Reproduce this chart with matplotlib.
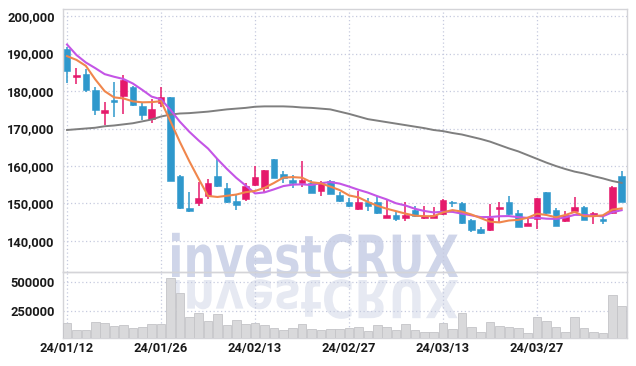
import numpy as np
import pandas as pd
import matplotlib
matplotlib.use("Agg")
import matplotlib.pyplot as plt
from matplotlib.textpath import TextPath
from matplotlib.patches import PathPatch
from matplotlib.font_manager import FontProperties
import matplotlib.transforms as mtransforms

# ---------------- data ----------------
opens = [191200, 183800, 184600, 180300, 174200, 177600, 178700, 181100, 176100, 172500,
         176900, 178300, 157300, 148900, 150200, 152100, 157300, 154100, 150700, 151200,
         154800, 154200, 161900, 157900, 156300, 155400, 155500, 153400, 156000, 152300,
         150300, 148500, 150400, 150400, 146200, 146800, 146200, 148300, 146200, 146200,
         147300, 150400, 150200, 145600, 143200, 142900, 148500, 150400, 147500, 144100,
         145900, 153000, 148300, 145200, 147900, 149100, 146600, 145900, 147400, 157300]
highs = [191800, 186200, 186000, 181100, 177100, 182300, 184400, 181400, 177100, 178000,
         181100, 178300, 157500, 153000, 155600, 156500, 161800, 155400, 152300, 155400,
         160000, 159000, 161900, 158700, 157600, 161200, 156300, 155900, 156300, 153000,
         151400, 153200, 151500, 152000, 151100, 147800, 150400, 149300, 149200, 149000,
         151100, 150600, 150400, 145800, 143700, 149800, 150400, 152000, 148300, 145900,
         151500, 153100, 148900, 148000, 151700, 149300, 147700, 147000, 154700, 158700]
lows = [182200, 182000, 179800, 173500, 170900, 173000, 173900, 176000, 172200, 171400,
        175800, 155900, 148400, 147800, 149300, 151100, 154500, 150000, 148200, 150700,
        154700, 152700, 156700, 155400, 154100, 154500, 152700, 152100, 152400, 150500,
        149000, 148300, 148100, 147200, 146100, 145300, 145300, 146400, 145800, 146000,
        147000, 149000, 144500, 142300, 141800, 142700, 145100, 147000, 143600, 143900,
        143100, 147300, 143900, 145000, 147800, 145500, 144500, 144500, 147200, 150300]
closes = [185400, 184300, 180300, 174900, 174900, 177100, 182900, 176400, 173600, 175200,
          178300, 156100, 148900, 148100, 151500, 155500, 154700, 150500, 149700, 154700,
          157100, 158900, 156900, 156900, 155400, 156300, 152900, 155400, 152600, 150700,
          149200, 150300, 149400, 147400, 146800, 145900, 147000, 146700, 146700, 146800,
          151000, 150000, 144700, 142900, 142000, 146100, 149100, 147200, 143800, 144800,
          151400, 147500, 144100, 146800, 149000, 145700, 147500, 145200, 154500, 150500]
volumes = [139000, 80000, 80000, 150000, 139000, 115000, 121000, 98000, 104000, 130000,
           130000, 535000, 403000, 192000, 227000, 157000, 218000, 121000, 165000, 130000,
           139000, 121000, 95000, 77000, 95000, 130000, 86000, 77000, 86000, 86000,
           95000, 104000, 71000, 121000, 104000, 77000, 130000, 77000, 68000, 68000,
           139000, 86000, 227000, 104000, 68000, 148000, 112000, 104000, 95000, 51000,
           192000, 157000, 104000, 60000, 192000, 95000, 62000, 51000, 385000, 291000]
# moving-average values before enough in-window history exists
ma5_head = [189300, 188300, 186700, 183100]
ma10_head = [192400, 189600, 187600, 186100, 184500, 183800, 183200, 182000, 180300]
# long moving average
ma60 = [169600, 169800, 170000, 170200, 170600, 170800, 171100, 171400, 171900, 172400,
        173200, 173700, 174000, 174100, 174300, 174500, 174800, 175100, 175300, 175500,
        175800, 175900, 175900, 175900, 175800, 175600, 175500, 175300, 175100, 174500,
        173900, 173200, 172500, 172100, 171700, 171300, 170900, 170500, 170100, 169600,
        169300, 168800, 168400, 167800, 167200, 166500, 165600, 164700, 163900, 162900,
        161900, 160900, 160000, 159200, 158500, 158000, 157300, 156700, 156000, 155500]
tick_idx = [0, 10, 20, 30, 40, 50]
tick_labels = ["24/01/12", "24/01/26", "24/02/13", "24/02/27", "24/03/13", "24/03/27"]
price_ticks = [140000, 150000, 160000, 170000, 180000, 190000, 200000]
vol_ticks = [250000, 500000]

# ---------------- derived ----------------
n = len(closes)
x = np.arange(n)
cs = pd.Series(closes, dtype=float)
ma5 = cs.rolling(5).mean().to_numpy()
ma5[:len(ma5_head)] = ma5_head
ma10 = cs.rolling(10).mean().to_numpy()
ma10[:len(ma10_head)] = ma10_head

UP = "#e5196b"
DOWN = "#2f98cc"
GRID = "#c6cadf"
SPINE = "#d4d4d8"
FONT = ["Roboto", "DejaVu Sans"]

W, H = 636, 366
fig = plt.figure(figsize=(W / 100, H / 100), dpi=100)
fig.patch.set_facecolor("white")

# ---------------- watermark ----------------
fp = FontProperties(family="DejaVu Sans", weight="bold")
tp = TextPath((0, 0), "investCRUX", size=1, prop=fp)
ext = tp.get_extents()
capH = TextPath((0, 0), "C", size=1, prop=fp).get_extents().height
sx = 286 / ext.width
sy = 44 / capH
base = H - 277
tr = mtransforms.Affine2D().translate(-ext.x0, 0).scale(sx, sy).translate(172, base)
fig.add_artist(PathPatch(tp, transform=tr, facecolor="#cfd5e9", edgecolor="none", zorder=0))
tr2 = mtransforms.Affine2D().translate(-ext.x0, 0).scale(sx, -sy * 0.9).translate(172, base - 3)
fig.add_artist(PathPatch(tp, transform=tr2, facecolor="#e6e9f2", edgecolor="none", zorder=0))

L = 63 / W
Wd = (627 - 63) / W
ax = fig.add_axes([L, (H - 272) / H, Wd, (272 - 9) / H])
axv = fig.add_axes([L, (H - 337.5) / H, Wd, (337.5 - 272) / H], sharex=ax)
for a in (ax, axv):
    a.set_facecolor("none")
    for s in a.spines.values():
        s.set_color(SPINE)
        s.set_linewidth(1.0)
    a.tick_params(length=0, labelsize=9.3, labelcolor="#1a1a1a", pad=6)

# ---------------- candles ----------------
bw = 0.7
for i in range(n):
    o, h, l, c = opens[i], highs[i], lows[i], closes[i]
    col = UP if c >= o else DOWN
    ax.vlines(x[i], l, h, color=col, linewidth=1.1, zorder=3)
    lo, hi = min(o, c), max(o, c)
    ax.bar(x[i], max(hi - lo, 250), bottom=lo, width=bw, color=col,
           edgecolor=col, linewidth=0.4, zorder=4)

ax.plot(x, ma60, color="#7f7f7f", linewidth=1.4, zorder=5)
ax.plot(x, ma10, color="#c455e6", linewidth=1.5, zorder=5)
ax.plot(x, ma5, color="#f0864c", linewidth=1.5, zorder=6)

ax.set_xlim(-0.43, 59.57)
ax.set_ylim(131733, 201867)
ax.set_yticks(price_ticks)
ax.set_yticklabels([f"{v:,}" for v in price_ticks])
ax.grid(True, color=GRID, linestyle=(0, (1, 2)), linewidth=0.9, zorder=1)
ax.set_axisbelow(True)
plt.setp(ax.get_xticklabels(), visible=False)

# ---------------- volume ----------------
axv.bar(x, volumes, width=0.92, color="#d9d9db", edgecolor="#c4c4c8", linewidth=0.6, zorder=3)
axv.set_ylim(15850, 588000)
axv.set_yticks(vol_ticks)
axv.set_yticklabels([str(v) for v in vol_ticks])
axv.set_xticks(tick_idx)
axv.set_xticklabels(tick_labels)
axv.grid(True, color=GRID, linestyle=(0, (1, 2)), linewidth=0.9, zorder=1)
axv.set_axisbelow(True)

for a in (ax, axv):
    for lab in a.get_xticklabels() + a.get_yticklabels():
        lab.set_family(FONT)
        lab.set_fontweight("bold")
axv.tick_params(axis="x", pad=3)

fig.savefig("out.png", dpi=100, facecolor="white")
